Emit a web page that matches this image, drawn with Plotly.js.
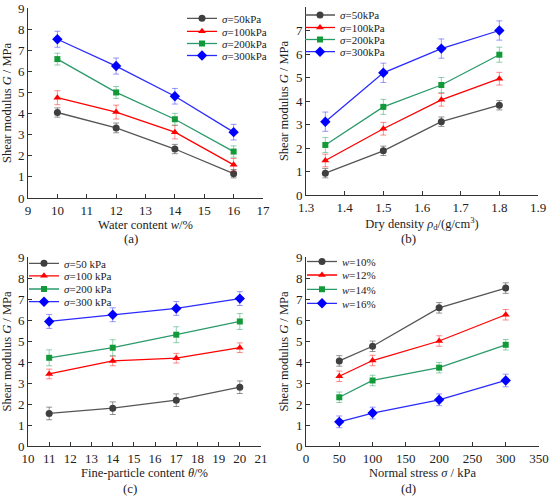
<!DOCTYPE html>
<html>
<head>
<meta charset="utf-8">
<script src="https://cdn.plot.ly/plotly-3.0.1.min.js"></script>
<style>html,body{margin:0;padding:0;background:#fff}#chart{width:550px;height:500px}</style>
</head>
<body>
<div id="chart"></div>
<script>
// ---- data ----
const xWater = [10, 12, 14, 16];
const xDensity = [1.35, 1.5, 1.65, 1.8];
const xFine = [11, 14, 17, 20];
const xStress = [50, 100, 200, 300];

const sigmaNames = ['50', '100', '200', '300'];
const wNames = ['10', '12', '14', '16'];

// (a) G vs water content
const aG50 = [4.05, 3.32, 2.32, 1.15];
const aG100 = [4.75, 4.07, 3.12, 1.57];
const aG200 = [6.58, 5.0, 3.73, 2.2];
const aG300 = [7.52, 6.25, 4.82, 3.12];
const aErr50 = [0.22, 0.23, 0.22, 0.2];
const aErr100 = [0.33, 0.33, 0.32, 0.3];
const aErr200 = [0.28, 0.28, 0.28, 0.27];
const aErr300 = [0.38, 0.38, 0.37, 0.37];

// (b) G vs dry density
const bG50 = [0.93, 1.88, 3.12, 3.82];
const bG100 = [1.47, 2.82, 4.05, 4.95];
const bG200 = [2.13, 3.75, 4.68, 5.97];
const bG300 = [3.12, 5.2, 6.23, 7.0];
const bErr50 = [0.2, 0.2, 0.2, 0.2];
const bErr100 = [0.27, 0.27, 0.27, 0.27];
const bErr200 = [0.32, 0.32, 0.32, 0.32];
const bErr300 = [0.41, 0.41, 0.41, 0.41];

// (c) G vs fine-particle content
const cG50 = [1.55, 1.8, 2.18, 2.8];
const cG100 = [3.43, 4.05, 4.18, 4.68];
const cG200 = [4.2, 4.68, 5.3, 5.93];
const cG300 = [5.93, 6.25, 6.55, 7.02];
const cErr50 = [0.3, 0.3, 0.3, 0.3];
const cErr100 = [0.23, 0.23, 0.23, 0.23];
const cErr200 = [0.38, 0.38, 0.38, 0.38];
const cErr300 = [0.33, 0.33, 0.33, 0.33];

// (d) G vs normal stress
const dG10 = [4.05, 4.75, 6.58, 7.52];
const dG12 = [3.32, 4.07, 5.0, 6.25];
const dG14 = [2.32, 3.12, 3.73, 4.82];
const dG16 = [1.15, 1.57, 2.2, 3.12];
const dErr10 = [0.25, 0.25, 0.25, 0.25];
const dErr12 = [0.25, 0.25, 0.25, 0.25];
const dErr14 = [0.25, 0.25, 0.25, 0.25];
const dErr16 = [0.28, 0.28, 0.28, 0.3];

// ---- styles ----
const styles = [
  {marker: '#3f3f3f', line: '#555555', err: 'rgba(60,60,60,0.55)', symbol: 'circle', size: 7},
  {marker: '#ff0000', line: '#ff0000', err: 'rgba(255,0,0,0.45)', symbol: 'triangle-up', size: 7},
  {marker: '#139a38', line: '#2a9a6a', err: 'rgba(20,150,80,0.45)', symbol: 'square', size: 6},
  {marker: '#0000ff', line: '#2a2aff', err: 'rgba(0,0,255,0.4)', symbol: 'diamond', size: 8}
];

const FONT = 'Liberation Serif, Times New Roman, serif';
const W = 550, H = 500;

let legendCount = 0;
const legends = {};
// single-entry legend placed at (left px, centre y px)
function newLegend(left, cy) {
  legendCount += 1;
  const key = legendCount === 1 ? 'legend' : 'legend' + legendCount;
  legends[key] = {
    x: left / W, y: 1 - cy / H, xanchor: 'left', yanchor: 'middle',
    bgcolor: 'rgba(255,255,255,0)', borderwidth: 0,
    font: {family: FONT, size: 11, color: '#222'},
    tracegroupgap: 0, itemwidth: 30
  };
  return key;
}

function mk(x, y, err, idx, name, xa, ya, legLeft, legY) {
  const s = styles[idx];
  return {
    x: x, y: y, type: 'scatter', mode: 'lines+markers', name: name,
    xaxis: xa, yaxis: ya, legend: newLegend(legLeft, legY),
    line: {color: s.line, width: 1.3},
    marker: {color: s.marker, symbol: s.symbol, size: s.size},
    error_y: {type: 'data', array: err, visible: true, color: s.err, thickness: 1, width: 3}
  };
}

const sigLab = n => '<i>σ</i>=' + n + 'kPa';
const sigLabS = n => '<i>σ</i>=' + n + ' kPa';
const wLab = n => '<i>w</i>=' + n + '%';

const aY = [18.3, 31.3, 43.5, 55.5];
const bY = [15, 27.5, 39.5, 51.7];
const cY = [263.3, 275.8, 289, 301.7];
const dY = [261.5, 275, 289.3, 303.3];

const data = [
  mk(xWater, aG50, aErr50, 0, sigLab(sigmaNames[0]), 'x', 'y', 182, aY[0]),
  mk(xWater, aG100, aErr100, 1, sigLab(sigmaNames[1]), 'x', 'y', 182, aY[1]),
  mk(xWater, aG200, aErr200, 2, sigLab(sigmaNames[2]), 'x', 'y', 182, aY[2]),
  mk(xWater, aG300, aErr300, 3, sigLab(sigmaNames[3]), 'x', 'y', 182, aY[3]),
  mk(xDensity, bG50, bErr50, 0, sigLab(sigmaNames[0]), 'x2', 'y2', 300, bY[0]),
  mk(xDensity, bG100, bErr100, 1, sigLab(sigmaNames[1]), 'x2', 'y2', 300, bY[1]),
  mk(xDensity, bG200, bErr200, 2, sigLab(sigmaNames[2]), 'x2', 'y2', 300, bY[2]),
  mk(xDensity, bG300, bErr300, 3, sigLab(sigmaNames[3]), 'x2', 'y2', 300, bY[3]),
  mk(xFine, cG50, cErr50, 0, sigLabS(sigmaNames[0]), 'x3', 'y3', 24, cY[0]),
  mk(xFine, cG100, cErr100, 1, sigLabS(sigmaNames[1]), 'x3', 'y3', 24, cY[1]),
  mk(xFine, cG200, cErr200, 2, sigLabS(sigmaNames[2]), 'x3', 'y3', 24, cY[2]),
  mk(xFine, cG300, cErr300, 3, sigLabS(sigmaNames[3]), 'x3', 'y3', 24, cY[3]),
  mk(xStress, dG10, dErr10, 0, wLab(wNames[0]), 'x4', 'y4', 302, dY[0]),
  mk(xStress, dG12, dErr12, 1, wLab(wNames[1]), 'x4', 'y4', 302, dY[1]),
  mk(xStress, dG14, dErr14, 2, wLab(wNames[2]), 'x4', 'y4', 302, dY[2]),
  mk(xStress, dG16, dErr16, 3, wLab(wNames[3]), 'x4', 'y4', 302, dY[3])
];

const px = (a, b) => [a / W, b / W];
const py = (top, bottom) => [(H - bottom) / H, (H - top) / H];

function xax(dom, range, dtick, title, anchor) {
  return {
    domain: dom, range: range, dtick: dtick, tick0: range[0], anchor: anchor,
    showline: true, linecolor: '#333', linewidth: 1, mirror: false,
    ticks: 'inside', ticklen: 4, tickcolor: '#333', showgrid: false, zeroline: false,
    tickfont: {family: FONT, size: 13, color: '#222'},
    title: {text: title, font: {family: FONT, size: 12.5, color: '#222'}, standoff: 2}
  };
}
function yax(dom, range, anchor) {
  return {
    domain: dom, range: range, dtick: 1, anchor: anchor,
    showline: true, linecolor: '#333', linewidth: 1, mirror: false,
    ticks: 'inside', ticklen: 4, tickcolor: '#333', showgrid: false, zeroline: false,
    tickfont: {family: FONT, size: 13, color: '#222'},
    title: {text: 'Shear modulus <i>G</i> / MPa', font: {family: FONT, size: 12.5, color: '#222'}, standoff: 4}
  };
}

const annFont = {family: FONT, size: 13, color: '#222'};
function panelLabel(t, cx, cy) {
  return {text: t, x: cx / W, y: 1 - cy / H, xref: 'paper', yref: 'paper', xanchor: 'center', yanchor: 'middle', showarrow: false, font: annFont};
}

const layout = Object.assign({
  width: W, height: H,
  margin: {l: 0, r: 0, t: 0, b: 0},
  paper_bgcolor: '#fff', plot_bgcolor: '#fff',
  font: {family: FONT, size: 12, color: '#222'},
  showlegend: true,
  xaxis: xax(px(28, 263), [9, 17], 1, 'Water content <i>w</i>/%', 'y'),
  yaxis: yax(py(8, 198), [0, 9], 'x'),
  xaxis2: xax(px(306, 538), [1.3, 1.9], 0.1, 'Dry density <i>ρ</i><sub>d</sub>/(g/cm<sup>3</sup>)', 'y2'),
  yaxis2: yax(py(7, 195), [0, 8], 'x2'),
  xaxis3: xax(px(28, 261), [10, 21], 1, 'Fine-particle content <i>θ</i>/%', 'y3'),
  yaxis3: yax(py(257, 446), [0, 9], 'x3'),
  xaxis4: xax(px(306, 539), [0, 350], 50, 'Normal stress <i>σ</i> / kPa', 'y4'),
  yaxis4: yax(py(257, 446), [0, 9], 'x4'),
  annotations: [
    panelLabel('(a)', 131, 238),
    panelLabel('(b)', 408, 238),
    panelLabel('(c)', 130, 488),
    panelLabel('(d)', 408, 488)
  ]
}, legends);

Plotly.newPlot('chart', data, layout, {displayModeBar: false, staticPlot: true});
</script>
</body>
</html>
